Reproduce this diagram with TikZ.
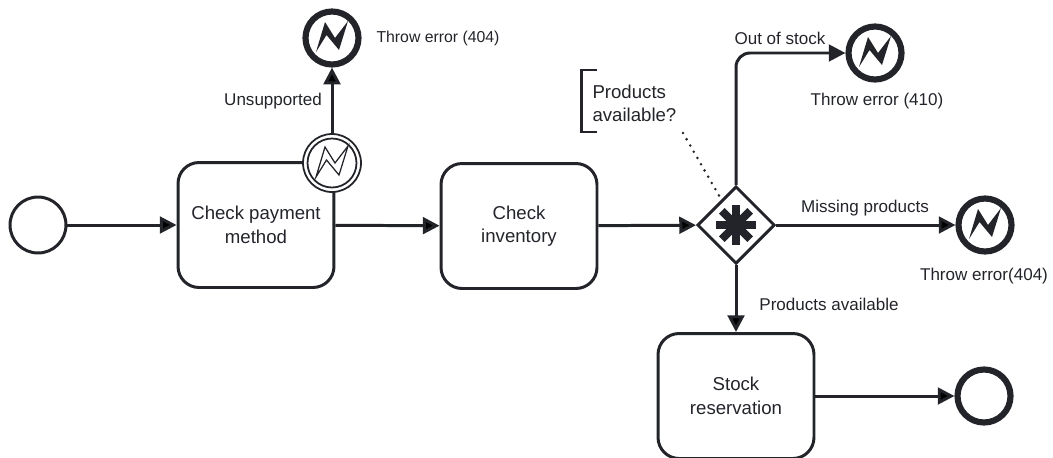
\documentclass[tikz,border=0pt]{standalone}
\usepackage{fontspec}
\setmainfont{Liberation Sans}
\usetikzlibrary{arrows.meta,positioning,shapes.geometric}
\definecolor{ink}{HTML}{22242A}
\tikzset{every picture/.style={line width=1.7pt}}
\tikzstyle{task}=[draw=ink,rectangle,rounded corners=12pt,minimum width=3.12cm,minimum height=2.5cm,inner sep=0pt,align=center,font=\fontsize{10.6}{13.4}\selectfont,text=ink]
\tikzstyle{event}=[draw=ink,circle,minimum size=1.12cm,inner sep=0pt]
\tikzstyle{errorend}=[draw=ink,circle,line width=3.5pt,minimum size=1.06cm,inner sep=0pt]
\tikzstyle{lab}=[font=\fontsize{9.7}{12}\selectfont,text=ink,inner sep=0pt]
\tikzstyle{flow}=[draw=ink,-{Triangle[length=9.5pt,width=9.5pt]}]
\newcommand{\boltpath}[1]{(#1) ++(-16,14) -- ++(9,-30) -- ++(10,16) -- ++(13,-17) -- ++(-9,29) -- ++(-12.5,-15) -- cycle}
\begin{document}
\begin{tikzpicture}[x=0.02cm,y=-0.02cm]
\useasboundingbox (0,0) rectangle (1053,457);
\node[event] (start) at (38,225) {};
\node[task] (pay) at (256,225) {Check payment\\method};
\node[task] (inv) at (519,226) {Check\\inventory};
\node[task] (stock) at (736,396) {Stock\\reservation};
\node[draw=ink,diamond,aspect=1,minimum width=1.55cm,minimum height=1.55cm,inner sep=0pt] (gate) at (736,225) {};
\node[errorend] (end) at (984,396) {};
\node[errorend] (err1) at (332,38) {};
\node[errorend] (err2) at (875,53) {};
\node[errorend] (err3) at (985,225) {};
\node[draw=ink,fill=white,circle,line width=1pt,minimum size=1.16cm,inner sep=0pt] (catch) at (332,163) {};
\node[draw=ink,circle,line width=1pt,minimum size=0.98cm,inner sep=0pt] (catchin) at (332,163) {};
% error marks
\fill[ink] \boltpath{err1};
\fill[ink] \boltpath{err2};
\fill[ink] \boltpath{err3};
\draw[ink,line width=0.7pt] \boltpath{catch};
% gateway mark
\foreach \ang in {0,45,90,135}
  \draw[ink,line width=4.6pt,rotate around={\ang:(gate)}] (716,225) -- (756,225);
\path[flow]
(start) edge (pay)
(pay) edge (inv)
(catch) edge (err1)
(inv) edge (gate)
(gate) edge (stock)
(gate) edge (err3)
(stock) edge (end);
\draw[flow,rounded corners=8pt] (gate.north) |- (err2.west);
% annotation
\coordinate (noteup) at (683,133);
\node[anchor=west,align=left,inner sep=0pt,font=\fontsize{10.6}{13}\selectfont,text=ink] (note) at (591,103) {Products\\available?};
\draw[ink,line width=1.7pt] (597,70) -- (581,70) -- (581,132) -- (597,132);
\draw[ink,line width=1.6pt,line cap=round,dash pattern=on 0pt off 4.1pt] (noteup) -- (gate);
% labels
\node[lab] (l1) at (273,101) {Unsupported};
\node[lab,anchor=west,font=\fontsize{9}{11}\selectfont] (l2) at (375,38) {Throw error (404)};
\node[lab] (l3) at (780,38) {Out of stock};
\node[lab] (l4) at (877,101) {Throw error (410)};
\node[lab] (l5) at (865,208) {Missing products};
\node[lab] (l6) at (984,276) {Throw error(404)};
\node[lab] (l7) at (829,304) {Products available};
\end{tikzpicture}
\end{document}
